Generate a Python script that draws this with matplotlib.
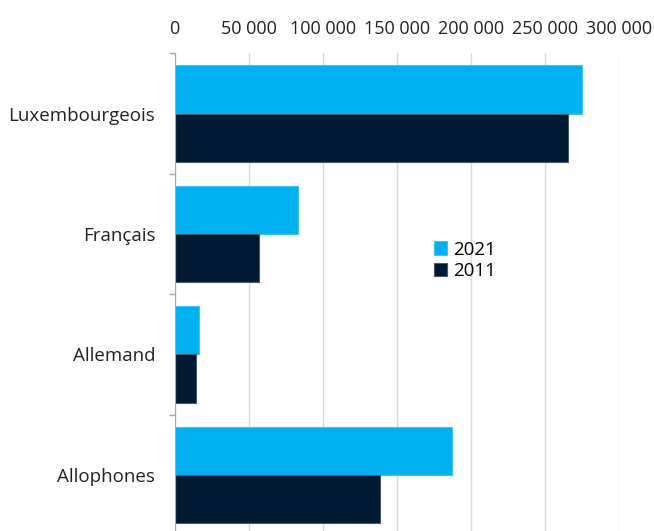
import numpy as np
import matplotlib
matplotlib.use("Agg")
import matplotlib.pyplot as plt
from matplotlib.ticker import FuncFormatter, FixedLocator

plt.rcParams['font.family'] = ['Open Sans', 'DejaVu Sans']

# données
langues = ['Luxembourgeois', 'Français', 'Allemand', 'Allophones']
val_2021 = [275400, 83500, 16200, 187400]
val_2011 = [265500, 57200, 14400, 138500]
x_ticks = [0, 50000, 100000, 150000, 200000, 250000, 300000]

c2021 = '#00B0F0'
c2011 = '#001A33'
fs = 13.5

fig = plt.figure(figsize=(6.54, 5.31), dpi=100)
ax = fig.add_axes([0.2671, -0.0075, 0.946 - 0.2671, 0.9071])

y = np.arange(len(langues))
h = 0.4
ax.barh(y - h / 2, val_2021, height=h, color=c2021, edgecolor='#3FC4F5', linewidth=0.8, label='2021', zorder=3)
ax.barh(y + h / 2, val_2011, height=h, color=c2011, edgecolor='#4A5A6E', linewidth=0.8, label='2011', zorder=3)

ax.set_ylim(len(langues) - 0.5, -0.5)
ax.set_xlim(0, 300000)

ax.xaxis.tick_top()
ax.set_xticks(x_ticks)
ax.xaxis.set_major_formatter(FuncFormatter(lambda v, p: f"{int(v):,}".replace(',', ' ')))
ax.tick_params(axis='x', length=0, pad=11, labelsize=13, colors='#222222')
ax.grid(axis='x', color='#D9D9D9', linewidth=1, zorder=0)

ax.set_yticks(y)
ax.set_yticklabels(langues)
ax.tick_params(axis='y', which='major', length=0, pad=14, labelsize=fs, colors='#222222')
ax.yaxis.set_minor_locator(FixedLocator(np.arange(-0.5, len(langues), 1)))
ax.tick_params(axis='y', which='minor', length=4.5, color='#A6A6A6', width=1)

for s in ['top', 'right', 'bottom']:
    ax.spines[s].set_visible(False)
ax.spines['left'].set_color('#A6A6A6')
ax.spines['left'].set_zorder(4)

fig.legend(loc='upper left', bbox_to_anchor=(0.664, 0.547), frameon=False,
           fontsize=fs, handlelength=0.7, handleheight=0.7, handletextpad=0.3,
           labelspacing=0.2, borderpad=0, borderaxespad=0)

fig.savefig('out.png', dpi=100)
